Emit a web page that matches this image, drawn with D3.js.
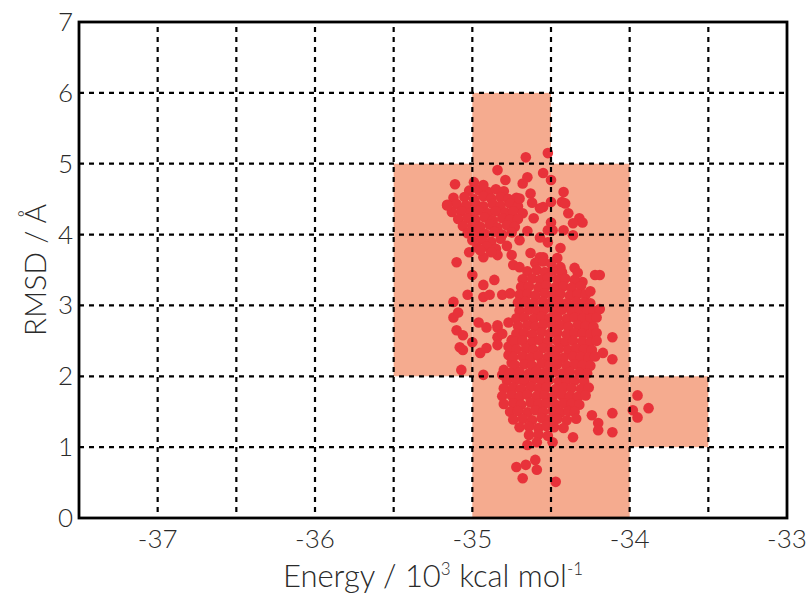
<!DOCTYPE html>
<html><head><meta charset="utf-8">
<script src="https://cdn.jsdelivr.net/npm/d3@7"></script>
<style>body{margin:0;background:#fff}svg{display:block}text{font-family:Lato,"Open Sans",sans-serif;fill:#2a2a2a;font-weight:300}</style>
</head><body><div id="chart"></div>
<script>
const xTicks = [-37,-36,-35,-34,-33];
const yTicks = [0,1,2,3,4,5,6,7];
const xGrid = [-37,-36.5,-36,-35.5,-35,-34.5,-34,-33.5];
const yGrid = [1,2,3,4,5,6];
// shaded bins: [E0, R0, E1, R1]
const cells = [[-35,0,-34.5,6],[-34.5,0,-34,5],[-35.5,2,-35,5],[-34,1,-33.5,2]];

const upperCluster = [
[-35.02,4.62],[-34.96,4.63],[-34.90,4.60],[-34.85,4.64],[-34.80,4.61],
[-35.12,4.52],[-35.05,4.53],[-34.99,4.50],[-34.93,4.54],[-34.88,4.51],[-34.82,4.53],[-34.77,4.50],[-34.72,4.52],
[-35.16,4.42],[-35.10,4.43],[-35.04,4.41],[-34.98,4.44],[-34.93,4.40],[-34.87,4.43],[-34.82,4.41],[-34.76,4.44],[-34.71,4.40],
[-35.13,4.32],[-35.07,4.33],[-35.01,4.31],[-34.96,4.34],[-34.90,4.30],[-34.85,4.33],[-34.79,4.31],[-34.74,4.33],[-34.68,4.30],
[-35.09,4.22],[-35.03,4.23],[-34.98,4.21],[-34.92,4.24],[-34.87,4.20],[-34.81,4.23],[-34.76,4.21],[-34.71,4.22],
[-35.06,4.12],[-35.00,4.13],[-34.95,4.11],[-34.89,4.14],[-34.84,4.10],[-34.78,4.13],[-34.73,4.11],
[-35.03,4.02],[-34.97,4.03],[-34.92,4.01],[-34.86,4.04],[-34.81,4.00],[-34.75,4.03],
[-35.00,3.92],[-34.94,3.93],[-34.88,3.90],[-34.82,3.94],
[-34.97,3.82],[-34.91,3.83],[-34.85,3.80],[-34.78,3.84],
[-35.11,4.71],[-34.79,4.77],[-34.84,4.91],[-35.16,4.41],[-34.99,4.74],[-34.93,4.70]
];
const upperSpread = [
[-34.66,5.09],[-34.52,5.15],[-34.68,4.72],[-34.65,4.81],[-34.55,4.87],[-34.50,4.77],
[-34.42,4.60],[-34.43,4.46],[-34.41,4.44],[-34.55,4.39],[-34.50,4.46],[-34.39,4.30],
[-34.32,4.23],[-34.30,4.17],[-34.36,4.16],[-34.50,4.17],[-34.52,4.06],[-34.49,4.06],
[-34.42,4.06],[-34.36,3.99],[-34.52,3.89],[-34.44,3.81],[-34.55,3.68],[-34.46,3.67],
[-34.44,3.54],[-34.35,3.53],[-34.33,3.46],[-34.22,3.43],[-34.19,3.43],[-34.30,3.33],
[-34.49,3.50],[-34.70,4.51],[-34.63,4.58],[-34.57,4.37],[-34.61,4.23],[-34.70,3.92],
[-34.57,3.96],[-34.65,4.05],[-34.62,4.45],
[-34.93,3.68],[-34.84,3.71],[-34.75,3.71],[-34.74,3.57],[-34.70,3.54],[-34.63,3.74],
[-34.57,3.68],[-34.95,3.78],[-34.88,3.75],[-35.02,3.75]
];
const leftChain = [
[-35.10,3.61],[-35.00,3.43],[-34.93,3.29],[-34.86,3.36],[-35.03,3.15],[-34.93,3.12],
[-34.89,3.15],[-34.81,3.15],[-34.76,3.17],[-35.12,2.83],[-34.96,2.76],
[-34.91,2.69],[-34.84,2.69],[-34.77,2.76],[-35.10,2.65],[-35.06,2.58],[-35.00,2.48],
[-35.08,2.41],[-35.06,2.37],[-34.95,2.33],[-34.91,2.40],[-34.84,2.55],[-34.75,2.51],
[-34.74,2.37],[-34.77,2.30],[-34.75,2.19],[-35.07,2.09],[-34.93,2.02],[-34.81,2.02],
[-34.74,2.05],[-35.12,3.05],[-35.09,2.90],[-34.84,2.72],[-34.81,2.60],[-34.84,2.44],
[-34.77,2.42],[-34.80,2.09],[-34.75,1.80]
];
const lowerCluster = [
[-34.60,3.60],[-34.55,3.62],[-34.50,3.59],
[-34.65,3.48],[-34.59,3.50],[-34.54,3.47],[-34.49,3.49],[-34.43,3.47],
[-34.68,3.37],[-34.62,3.38],[-34.57,3.36],[-34.52,3.39],[-34.46,3.37],[-34.41,3.38],[-34.35,3.36],
[-34.69,3.26],[-34.64,3.27],[-34.58,3.25],[-34.53,3.28],[-34.47,3.26],[-34.42,3.27],[-34.37,3.25],[-34.31,3.27],
[-34.70,3.15],[-34.65,3.16],[-34.60,3.14],[-34.54,3.17],[-34.49,3.15],[-34.44,3.16],[-34.38,3.14],[-34.33,3.16],[-34.28,3.15],
[-34.71,3.04],[-34.66,3.05],[-34.61,3.03],[-34.55,3.06],[-34.50,3.04],[-34.45,3.05],[-34.40,3.03],[-34.34,3.05],[-34.29,3.04],[-34.25,3.03],
[-34.70,2.93],[-34.64,2.94],[-34.59,2.92],[-34.54,2.95],[-34.48,2.93],[-34.43,2.94],[-34.37,2.92],[-34.32,2.94],[-34.27,2.93],[-34.23,2.92],
[-34.72,2.82],[-34.67,2.83],[-34.61,2.81],[-34.56,2.84],[-34.51,2.82],[-34.46,2.83],[-34.40,2.81],[-34.35,2.83],[-34.30,2.82],[-34.25,2.81],[-34.21,2.83],
[-34.71,2.71],[-34.65,2.72],[-34.60,2.70],[-34.55,2.73],[-34.49,2.71],[-34.44,2.72],[-34.39,2.70],[-34.33,2.72],[-34.28,2.71],[-34.23,2.70],
[-34.72,2.60],[-34.67,2.61],[-34.62,2.59],[-34.56,2.62],[-34.51,2.60],[-34.46,2.61],[-34.40,2.59],[-34.35,2.61],[-34.30,2.60],[-34.25,2.59],[-34.21,2.61],
[-34.73,2.49],[-34.68,2.50],[-34.62,2.48],[-34.57,2.51],[-34.52,2.49],[-34.46,2.50],[-34.41,2.48],[-34.36,2.50],[-34.30,2.49],[-34.25,2.48],[-34.21,2.50],
[-34.72,2.38],[-34.66,2.39],[-34.61,2.37],[-34.55,2.40],[-34.50,2.38],[-34.45,2.39],[-34.39,2.37],[-34.34,2.39],[-34.29,2.38],[-34.24,2.37],
[-34.74,2.27],[-34.68,2.28],[-34.63,2.26],[-34.58,2.29],[-34.52,2.27],[-34.47,2.28],[-34.42,2.26],[-34.36,2.28],[-34.31,2.27],[-34.26,2.26],[-34.22,2.28],
[-34.73,2.16],[-34.67,2.17],[-34.62,2.15],[-34.56,2.18],[-34.51,2.16],[-34.46,2.17],[-34.40,2.15],[-34.35,2.17],[-34.30,2.16],[-34.25,2.15],
[-34.76,2.05],[-34.70,2.06],[-34.64,2.04],[-34.59,2.07],[-34.54,2.05],[-34.48,2.06],[-34.43,2.04],[-34.38,2.06],[-34.32,2.05],[-34.27,2.04],
[-34.78,1.94],[-34.72,1.95],[-34.67,1.93],[-34.61,1.96],[-34.56,1.94],[-34.51,1.95],[-34.45,1.93],[-34.40,1.95],[-34.35,1.94],[-34.29,1.93],
[-34.80,1.83],[-34.74,1.84],[-34.69,1.82],[-34.63,1.85],[-34.58,1.83],[-34.53,1.84],[-34.47,1.82],[-34.42,1.84],[-34.37,1.83],[-34.31,1.82],[-34.26,1.84],
[-34.81,1.72],[-34.75,1.73],[-34.70,1.71],[-34.65,1.74],[-34.59,1.72],[-34.54,1.73],[-34.49,1.71],[-34.43,1.73],[-34.38,1.72],[-34.33,1.71],[-34.28,1.73],
[-34.80,1.61],[-34.74,1.62],[-34.69,1.60],[-34.63,1.63],[-34.58,1.61],[-34.53,1.62],[-34.47,1.60],[-34.42,1.62],[-34.37,1.61],[-34.32,1.60],
[-34.76,1.50],[-34.71,1.51],[-34.65,1.49],[-34.60,1.52],[-34.55,1.50],[-34.49,1.51],[-34.44,1.49],[-34.39,1.51],[-34.35,1.50],
[-34.74,1.39],[-34.68,1.40],[-34.62,1.38],[-34.56,1.41],[-34.51,1.39],[-34.46,1.40],[-34.40,1.38],[-34.34,1.40],
[-34.70,1.28],[-34.64,1.29],[-34.58,1.27],[-34.53,1.30],[-34.48,1.28],[-34.42,1.27],
[-34.64,1.17],[-34.58,1.18],[-34.52,1.16]
];
const outliers = [
[-34.11,2.55],[-34.17,2.33],[-34.11,2.24],[-34.19,2.95],[-34.25,3.20],
[-33.95,1.73],[-33.88,1.55],[-33.98,1.52],[-33.95,1.42],[-34.11,1.48],
[-34.20,1.34],[-34.20,1.24],[-34.11,1.21],[-34.24,1.45],
[-34.65,1.03],[-34.59,1.07],[-34.49,1.07],[-34.36,1.14],
[-34.72,0.72],[-34.66,0.75],[-34.60,0.82],[-34.59,0.68],[-34.68,0.56],[-34.47,0.51]
];

const W = 807, H = 594;
const m = {l:79, r:20, t:22, b:76};
const svg = d3.select("#chart").append("svg").attr("width",W).attr("height",H);
const x = d3.scaleLinear().domain([-37.5,-33]).range([m.l, W-m.r]);
const y = d3.scaleLinear().domain([0,7]).range([H-m.b, m.t]);

svg.append("g").selectAll("rect").data(cells).join("rect")
  .attr("x",d=>x(d[0])).attr("y",d=>y(d[3]))
  .attr("width",d=>x(d[2])-x(d[0])).attr("height",d=>y(d[1])-y(d[3]))
  .attr("fill","#f5ab8f");

const pts = [].concat(upperCluster, upperSpread, leftChain, lowerCluster, outliers);
svg.append("g").selectAll("circle").data(pts).join("circle")
  .attr("cx",d=>x(d[0])).attr("cy",d=>y(d[1])).attr("r",5.3).attr("fill","#e8323a");

const g = svg.append("g").attr("stroke","#000").attr("stroke-width",2.2).attr("stroke-dasharray","5,5");
g.selectAll("line.v").data(xGrid).join("line").attr("class","v")
  .attr("x1",d=>x(d)).attr("x2",d=>x(d)).attr("y1",y(0)-6).attr("y2",y(7));
g.selectAll("line.h").data(yGrid).join("line").attr("class","h")
  .attr("y1",d=>y(d)).attr("y2",d=>y(d)).attr("x1",x(-37.5)).attr("x2",x(-33));

svg.append("rect").attr("x",x(-37.5)).attr("y",y(7)).attr("width",x(-33)-x(-37.5)).attr("height",y(0)-y(7))
  .attr("fill","none").attr("stroke","#000").attr("stroke-width",2.8);

svg.append("g").selectAll("text").data(xTicks).join("text")
  .attr("x",d=>x(d)).attr("y",y(0)+30).attr("text-anchor","middle").attr("font-size",26).text(d=>d);
svg.append("g").selectAll("text").data(yTicks).join("text")
  .attr("x",x(-37.5)-6).attr("y",d=>y(d)+9).attr("text-anchor","end").attr("font-size",26).text(d=>d);

const xt = svg.append("text").attr("x",(x(-37.5)+x(-33))/2).attr("y",587).attr("text-anchor","middle").attr("font-size",31);
xt.append("tspan").text("Energy / 10");
xt.append("tspan").attr("dy",-12).attr("font-size",17).text("3");
xt.append("tspan").attr("dy",12).text(" kcal mol");
xt.append("tspan").attr("dy",-12).attr("font-size",17).text("-1");

svg.append("text").attr("transform",`translate(46,${(y(0)+y(7))/2}) rotate(-90)`)
  .attr("text-anchor","middle").attr("font-size",30).text("RMSD / Å");
</script></body></html>
